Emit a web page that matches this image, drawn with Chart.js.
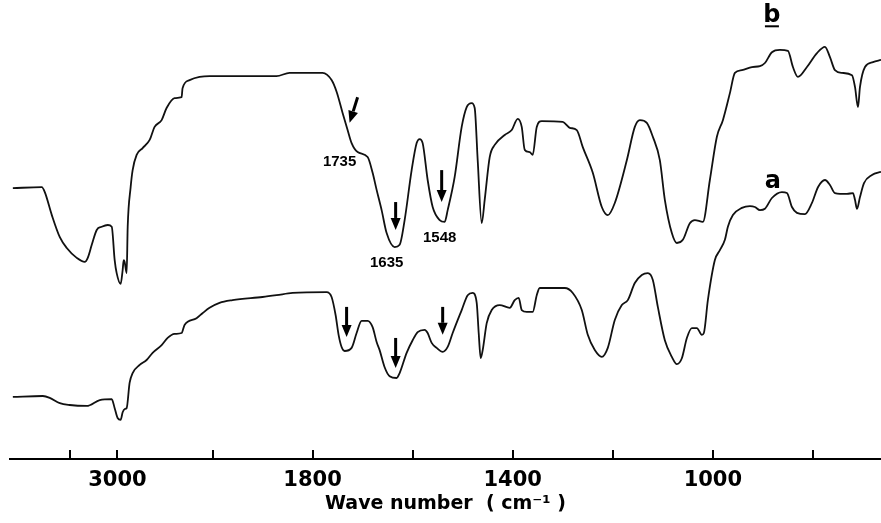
<!DOCTYPE html>
<html>
<head>
<meta charset="utf-8">
<script src="https://cdn.jsdelivr.net/npm/chart.js@4.4.1/dist/chart.umd.min.js"></script>
<style>
    body { margin: 0; background: #fff; }
    #wrap { width: 881px; height: 523px; position: relative; }
</style>
</head>
<body>
<div id="wrap"><canvas id="espectro"></canvas></div>
<script>
// Espectro b (superior): número de onda (cm-1) e transmitância relativa
const wnB = [4100, 3796, 3764, 3690, 3606, 3533, 3428, 3344, 3312, 3270, 3218, 3165, 3102, 3060, 3029, 3008,
    2966, 2945, 2934, 2924, 2903, 2892, 2861, 2840, 2798, 2735, 2661, 2609, 2535, 2483, 2399, 2325, 2315,
    2241, 2136, 2031, 1872, 1846, 1780, 1762, 1752, 1740, 1730, 1722, 1710, 1690, 1680, 1672, 1662, 1652,
    1636, 1626, 1616, 1602, 1592, 1586, 1580, 1570, 1560, 1546, 1536, 1530, 1516, 1502, 1492, 1482, 1476,
    1470, 1462, 1456, 1446, 1436, 1416, 1402, 1390, 1382, 1376, 1366, 1360, 1352, 1342, 1300, 1286, 1272,
    1260, 1240, 1222, 1210, 1196, 1172, 1156, 1146, 1132, 1120, 1106, 1096, 1082, 1072, 1060, 1046, 1036,
    1020, 1006, 992, 980, 966, 956, 942, 922, 906, 896, 882, 866, 850, 840, 830, 812, 792, 776, 766, 756,
    742, 722, 716, 710, 706, 696, 680, 664];
const tB = [60.2, 60.4, 59.3, 54.2, 49.3, 46.9, 44.7, 43.8, 44.7, 47.6, 50.9, 51.6, 52.0, 51.6, 44.2, 41.3,
    38.9, 42.0, 44.2, 43.8, 41.3, 51.6, 60.4, 64.2, 67.6, 69.1, 70.9, 73.8, 75.3, 78.0, 80.2, 80.4, 82.4,
    84.2, 84.9, 85.1, 85.1, 85.8, 85.8, 84.2, 81.6, 76.9, 73.1, 70.2, 68.2, 67.1, 63.6, 59.8, 55.3, 50.2,
    47.1, 47.6, 53.1, 64.2, 70.2, 71.1, 70.2, 62.0, 56.0, 53.1, 52.7, 55.3, 62.7, 73.8, 78.2, 79.1, 78.0,
    66.4, 52.4, 57.6, 67.1, 69.8, 72.0, 73.1, 75.6, 73.8, 68.7, 68.2, 67.6, 73.8, 75.1, 74.9, 73.6, 73.1,
    69.3, 63.6, 56.0, 54.2, 56.9, 66.4, 73.8, 75.3, 74.7, 71.6, 66.4, 57.6, 50.2, 48.0, 48.7, 52.4, 53.1,
    52.7, 62.0, 71.6, 75.3, 81.3, 85.8, 86.4, 87.1, 87.3, 88.0, 90.4, 90.9, 90.7, 87.1, 84.9, 87.1, 90.2,
    91.6, 89.3, 86.4, 85.8, 85.3, 82.7, 78.2, 82.7, 87.1, 88.2, 88.7];

// Espectro a (inferior)
const wnA = [4100, 3785, 3712, 3606, 3502, 3323, 3186, 3060, 3029, 2998, 2966, 2945, 2924, 2903, 2872, 2840,
    2766, 2693, 2630, 2535, 2472, 2399, 2325, 2294, 2168, 2105, 2031, 1986, 1960, 1900, 1872, 1840, 1772,
    1762, 1754, 1748, 1742, 1736, 1722, 1712, 1702, 1690, 1680, 1672, 1666, 1656, 1646, 1632, 1626, 1612,
    1600, 1590, 1576, 1570, 1562, 1552, 1540, 1530, 1520, 1502, 1490, 1480, 1472, 1468, 1464, 1460, 1452,
    1442, 1426, 1406, 1396, 1388, 1382, 1372, 1360, 1352, 1346, 1296, 1280, 1262, 1250, 1236, 1222, 1210,
    1196, 1182, 1170, 1156, 1142, 1130, 1120, 1110, 1096, 1082, 1072, 1062, 1052, 1042, 1032, 1022, 1018,
    1010, 996, 986, 976, 970, 960, 942, 926, 916, 906, 896, 882, 862, 852, 842, 832, 816, 802, 790, 776,
    766, 756, 732, 720, 716, 712, 706, 698, 682, 664];
const tA = [13.8, 14.0, 13.6, 12.4, 12.0, 11.8, 13.1, 13.3, 11.3, 9.1, 8.7, 10.4, 11.1, 11.3, 16.9, 19.1,
    20.9, 22.0, 23.6, 25.3, 26.9, 27.8, 28.0, 29.8, 31.3, 32.4, 33.6, 34.7, 35.3, 36.0, 36.4, 36.9, 37.1,
    36.0, 32.0, 27.6, 24.9, 24.0, 24.7, 28.0, 30.7, 30.7, 29.3, 26.0, 24.2, 20.4, 18.4, 18.0, 19.1, 23.6,
    26.4, 28.2, 28.7, 28.0, 25.8, 24.7, 23.8, 24.9, 28.0, 33.1, 36.4, 36.9, 34.7, 28.0, 22.4, 24.2, 30.2,
    33.1, 34.2, 33.6, 35.3, 35.8, 33.1, 32.7, 32.7, 36.4, 38.0, 38.0, 36.9, 33.1, 27.6, 24.2, 22.7, 24.7,
    30.9, 34.2, 35.3, 39.1, 40.9, 41.3, 39.8, 33.8, 26.4, 22.7, 21.1, 22.4, 26.9, 29.1, 29.1, 27.6, 28.0,
    35.3, 44.2, 46.4, 48.7, 51.6, 54.2, 55.8, 56.2, 56.0, 55.3, 55.6, 58.0, 59.3, 59.1, 56.0, 54.7, 54.4,
    56.9, 60.4, 62.0, 60.9, 59.1, 58.9, 59.1, 57.6, 55.6, 58.2, 61.3, 63.1, 63.8];

// Marcas do eixo x
const tickWn = [3500, 3000, 2000, 1800, 1600, 1400, 1200, 1000, 800];
const tickLabels = [3000, 1800, 1400, 1000];

// Setas (número de onda, início, fim) e rótulos
const arrows = [
    { wn: [1710, 1726], t: [80.4, 74.7] },
    { wn: [1634, 1634], t: [57.1, 50.9] },
    { wn: [1542, 1542], t: [64.2, 57.1] },
    { wn: [1732, 1732], t: [33.8, 27.1] },
    { wn: [1634, 1634], t: [26.9, 20.2] },
    { wn: [1540, 1540], t: [33.8, 27.6] }
];
const bandLabels = [
    { text: '1735', wn: 1746, t: 66.0 },
    { text: '1635', wn: 1652, t: 43.6 },
    { text: '1548', wn: 1546, t: 49.1 }
];
const curveLabels = [
    { text: 'b', wn: 882, t: 98.6, underline: true },
    { text: 'a', wn: 880, t: 61.6, underline: false }
];

// acima de 2000 cm-1 a escala é comprimida
function u(wn) {
    return wn <= 2000 ? wn : 2000 + (wn - 2000) * 0.19;
}
function wnFromU(v) {
    return v <= 2000 ? v : 2000 + (v - 2000) / 0.19;
}

function toPoints(wn, t) {
    return wn.map((w, i) => ({ x: u(w), y: t[i] }));
}

const notesPlugin = {
    id: 'notes',
    afterDraw(chart) {
        const ctx = chart.ctx;
        const xs = chart.scales.x;
        const ys = chart.scales.y;
        const bottom = chart.chartArea.bottom;

        ctx.save();
        ctx.strokeStyle = '#000';
        ctx.fillStyle = '#000';

        // marcas do eixo, para cima
        ctx.lineWidth = 2;
        tickWn.forEach(w => {
            const px = Math.round(xs.getPixelForValue(u(w)));
            ctx.beginPath();
            ctx.moveTo(px, bottom);
            ctx.lineTo(px, bottom - 9);
            ctx.stroke();
        });

        // setas
        arrows.forEach(a => {
            const x1 = xs.getPixelForValue(u(a.wn[0]));
            const y1 = ys.getPixelForValue(a.t[0]);
            const x2 = xs.getPixelForValue(u(a.wn[1]));
            const y2 = ys.getPixelForValue(a.t[1]);
            const ang = Math.atan2(y2 - y1, x2 - x1);
            const head = 12, half = 5;
            const bx = x2 - head * Math.cos(ang);
            const by = y2 - head * Math.sin(ang);
            ctx.lineWidth = 3;
            ctx.beginPath();
            ctx.moveTo(x1, y1);
            ctx.lineTo(bx, by);
            ctx.stroke();
            ctx.beginPath();
            ctx.moveTo(x2, y2);
            ctx.lineTo(bx + half * Math.sin(ang), by - half * Math.cos(ang));
            ctx.lineTo(bx - half * Math.sin(ang), by + half * Math.cos(ang));
            ctx.closePath();
            ctx.fill();
        });

        ctx.textAlign = 'center';
        ctx.textBaseline = 'middle';
        ctx.font = 'bold 15px "Liberation Sans", Arial, sans-serif';
        bandLabels.forEach(l => {
            ctx.fillText(l.text, xs.getPixelForValue(u(l.wn)), ys.getPixelForValue(l.t));
        });

        ctx.font = 'bold 24px "DejaVu Sans", sans-serif';
        curveLabels.forEach(l => {
            const px = xs.getPixelForValue(u(l.wn));
            const py = ys.getPixelForValue(l.t);
            ctx.fillText(l.text, px, py);
            if (l.underline) {
                ctx.lineWidth = 2;
                ctx.beginPath();
                ctx.moveTo(px - 7, py + 11);
                ctx.lineTo(px + 7, py + 11);
                ctx.stroke();
            }
        });
        ctx.restore();
    }
};

new Chart(document.getElementById('espectro'), {
    type: 'line',
    data: {
        datasets: [
            {
                label: 'b',
                data: toPoints(wnB, tB),
                borderColor: '#111',
                borderWidth: 1.8,
                pointRadius: 0,
                cubicInterpolationMode: 'monotone'
            },
            {
                label: 'a',
                data: toPoints(wnA, tA),
                borderColor: '#111',
                borderWidth: 1.8,
                pointRadius: 0,
                cubicInterpolationMode: 'monotone'
            }
        ]
    },
    options: {
        responsive: true,
        maintainAspectRatio: false,
        animation: false,
        layout: { padding: { left: 10, right: 0, top: 9, bottom: 8 } },
        plugins: {
            legend: { display: false },
            tooltip: { enabled: false }
        },
        scales: {
            x: {
                type: 'linear',
                reverse: true,
                min: u(664),
                max: u(4130),
                afterBuildTicks: scale => {
                    scale.ticks = tickWn.map(w => ({ value: u(w) }));
                },
                grid: { display: false, drawTicks: false },
                border: { display: true, color: '#000', width: 2 },
                ticks: {
                    autoSkip: false,
                    maxRotation: 0,
                    padding: 9,
                    color: '#000',
                    font: { family: '"DejaVu Sans", sans-serif', weight: 'bold', size: 21 },
                    callback: function(value) {
                        const w = Math.round(wnFromU(value));
                        return tickLabels.includes(w) ? String(w) : '';
                    }
                },
                title: {
                    display: true,
                    text: 'Wave number  ( cm\u207B\u00B9 )',
                    color: '#000',
                    font: { family: '"DejaVu Sans", sans-serif', weight: 'bold', size: 19 },
                    padding: { top: -10, bottom: 0 }
                }
            },
            y: {
                display: false,
                min: 0,
                max: 100
            }
        }
    },
    plugins: [notesPlugin]
});
</script>
</body>
</html>
